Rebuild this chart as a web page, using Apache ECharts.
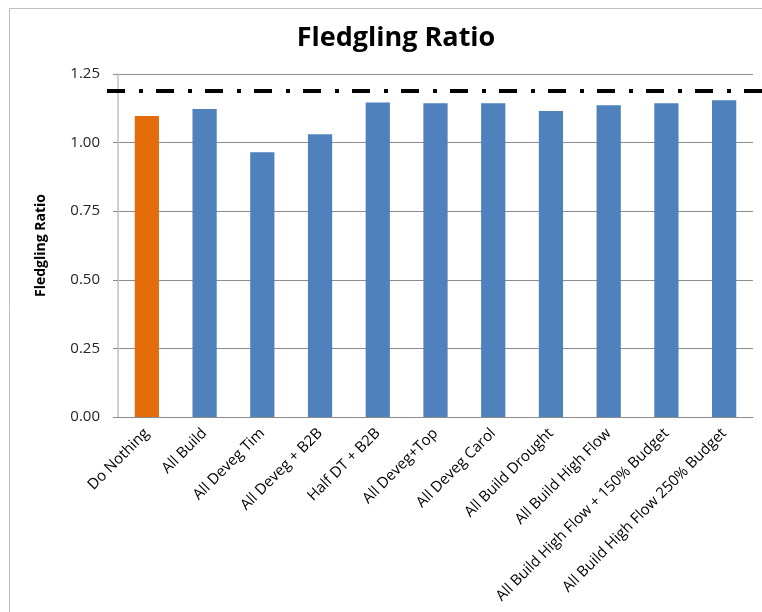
<!DOCTYPE html>
<html>
<head>
<meta charset="utf-8">
<script src="https://cdn.jsdelivr.net/npm/echarts@6/dist/echarts.min.js"></script>
<style>
  html, body { margin: 0; padding: 0; background: #fff; }
  #chart { width: 762px; height: 612px; }
</style>
</head>
<body>
<div id="chart"></div>
<script>
  // scenarios along the x axis
  var categories = ['Do Nothing', 'All Build', 'All Deveg Tim', 'All Deveg + B2B', 'Half DT + B2B',
    'All Deveg+Top', 'All Deveg Carol', 'All Build Drought', 'All Build High Flow',
    'All Build High Flow + 150% Budget', 'All Build High Flow 250% Budget'];
  // fledgling ratio per scenario
  var ratios = [1.097, 1.122, 0.965, 1.030, 1.146, 1.143, 1.143, 1.115, 1.136, 1.143, 1.154];
  // target line
  var target = [[0, 1.188], [1, 1.188]];
  var yTicks = { min: 0, max: 1.25, interval: 0.25 };

  var font = '"Open Sans", Lato, sans-serif';
  var chart = echarts.init(document.getElementById('chart'));
  chart.setOption({
    animation: false,
    backgroundColor: '#fff',
    textStyle: { fontFamily: font },
    graphic: [{
      type: 'rect',
      shape: { x: 9.5, y: 8.5, width: 900, height: 800 },
      style: { fill: null, stroke: '#bfbfbf', lineWidth: 1 },
      silent: true
    }],
    title: {
      text: 'Fledgling Ratio',
      left: 391,
      top: 20,
      textAlign: 'center',
      textStyle: { fontFamily: font, fontSize: 27, fontWeight: 'bold', color: '#000' }
    },
    grid: [
      { left: 118, right: 9, top: 74, bottom: 195 },
      { left: 107, right: 0, top: 74, bottom: 195 }
    ],
    xAxis: [{
      type: 'category',
      data: categories,
      gridIndex: 0,
      axisLine: { lineStyle: { color: '#8c8c8c' } },
      axisTick: { length: 5, lineStyle: { color: '#8c8c8c' } },
      axisLabel: { rotate: 45, fontSize: 15, color: '#000', margin: 14, interval: 0 }
    }, {
      type: 'value', gridIndex: 1, min: 0, max: 1, show: false
    }],
    yAxis: [{
      type: 'value',
      gridIndex: 0,
      min: yTicks.min,
      max: yTicks.max,
      interval: yTicks.interval,
      name: 'Fledgling Ratio',
      nameLocation: 'middle',
      nameGap: 70,
      nameTextStyle: { fontSize: 14, fontWeight: 'bold', color: '#000' },
      axisLine: { show: true, lineStyle: { color: '#d0d0d0', width: 2 } },
      axisTick: { show: true, length: 5, lineStyle: { color: '#8c8c8c' } },
      axisLabel: {
        fontSize: 15, color: '#262626', margin: 18,
        formatter: function (v) { return v.toFixed(2); }
      },
      splitLine: { lineStyle: { color: '#8c8c8c' } }
    }, {
      type: 'value', gridIndex: 1, min: yTicks.min, max: yTicks.max, show: false
    }],
    series: [{
      type: 'bar',
      xAxisIndex: 0,
      yAxisIndex: 0,
      data: ratios,
      barWidth: '42%',
      itemStyle: {
        color: function (p) { return p.dataIndex === 0 ? '#e46c0a' : '#4f81bd'; }
      }
    }, {
      type: 'line',
      xAxisIndex: 1,
      yAxisIndex: 1,
      data: target,
      symbol: 'none',
      silent: true,
      lineStyle: { color: '#000', width: 4, type: [18, 14, 4, 13], cap: 'butt' }
    }]
  });
</script>
</body>
</html>
